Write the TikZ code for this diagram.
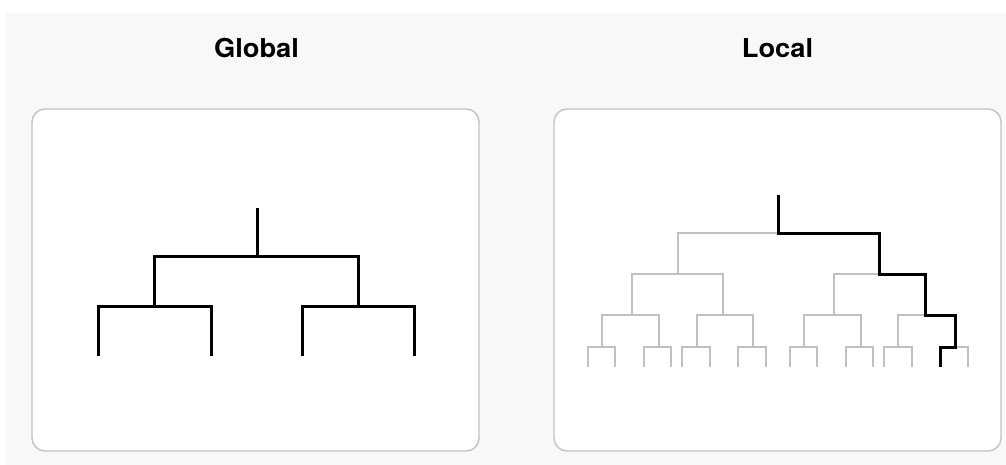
\documentclass[tikz,border=0pt]{standalone}
\usepackage{fontspec}
\setmainfont{TeX Gyre Heros}
\definecolor{pagebg}{HTML}{F8F8F8}
\definecolor{boxline}{HTML}{C2C2C2}
\definecolor{treegray}{HTML}{C0C0C0}
\begin{document}
\begin{tikzpicture}[x=1pt,y=-1pt,
  panel/.style={draw=boxline,fill=white,line width=1.4pt,rounded corners=13pt},
  heading/.style={anchor=base,font=\bfseries\fontsize{26}{31}\selectfont,inner sep=0pt,xscale=1.05},
  bold/.style={draw=black,line width=3pt,line join=miter,line cap=butt},
  faint/.style={draw=treegray,line width=1.8pt,line join=miter,line cap=butt},
  path/.style={draw=black,line width=3pt,line join=miter,line cap=butt}]
\useasboundingbox (0,0) rectangle (1006,465);
\fill[pagebg] (6,13) rectangle (1006,465);
\node[heading] (tg) at (256.5,58) {Global};
\node[heading] (tl) at (777.5,58) {Local};
\draw[panel] (32,109) rectangle (479,451);
\draw[panel] (554,109) rectangle (1001,451);
% ---------- Global tree ----------
\coordinate (g0) at (257,208);
\coordinate (g1) at (257,256);
\coordinate (ga) at (154,256); \coordinate (gb) at (358,256);
\coordinate (ga2) at (154,306); \coordinate (gb2) at (358,306);
\coordinate (gaa) at (98,306); \coordinate (gab) at (211,306);
\coordinate (gba) at (302,306); \coordinate (gbb) at (414,306);
\coordinate (gaa1) at (98,356); \coordinate (gab1) at (211,356);
\coordinate (gba1) at (302,356); \coordinate (gbb1) at (414,356);
\draw[bold] (g0) -- (g1);
\draw[bold] (ga2) -- (ga) -- (gb) -- (gb2);
\draw[bold] (gaa1) -- (gaa) -- (gab) -- (gab1);
\draw[bold] (gba1) -- (gba) -- (gbb) -- (gbb1);
% ---------- Local tree ----------
\coordinate (r0) at (778,195);
\coordinate (r1) at (778,233);
\draw[faint] (r0) -- (r1);
\draw[faint] (678,274) -- (678,233) -- (879,233) -- (879,274);
\draw[faint] (632,315) -- (632,274) -- (723,274) -- (723,315);
\draw[faint] (834,315) -- (834,274) -- (925,274) -- (925,315);
\foreach \a/\b in {602/659,697/753,804/861,898/955}
  \draw[faint] (\a,347) -- (\a,315) -- (\b,315) -- (\b,347);
\foreach \a/\b in {588/615,644/671,682/710,738/766,790/817,846/873,884/912,940/968}
  \draw[faint] (\a,367) -- (\a,347) -- (\b,347) -- (\b,367);
% highlighted path
\coordinate (p1) at (879,233);
\coordinate (p2) at (879,274);
\coordinate (p3) at (925,274);
\coordinate (p4) at (925,315);
\coordinate (p5) at (955,315);
\coordinate (p6) at (955,347);
\coordinate (p7) at (940,347);
\coordinate (p8) at (940,367);
\draw[path] (r0) -- (r1) -- (p1) -- (p2) -- (p3) -- (p4) -- (p5) -- (p6) -- (p7) -- (p8);
\end{tikzpicture}
\end{document}
